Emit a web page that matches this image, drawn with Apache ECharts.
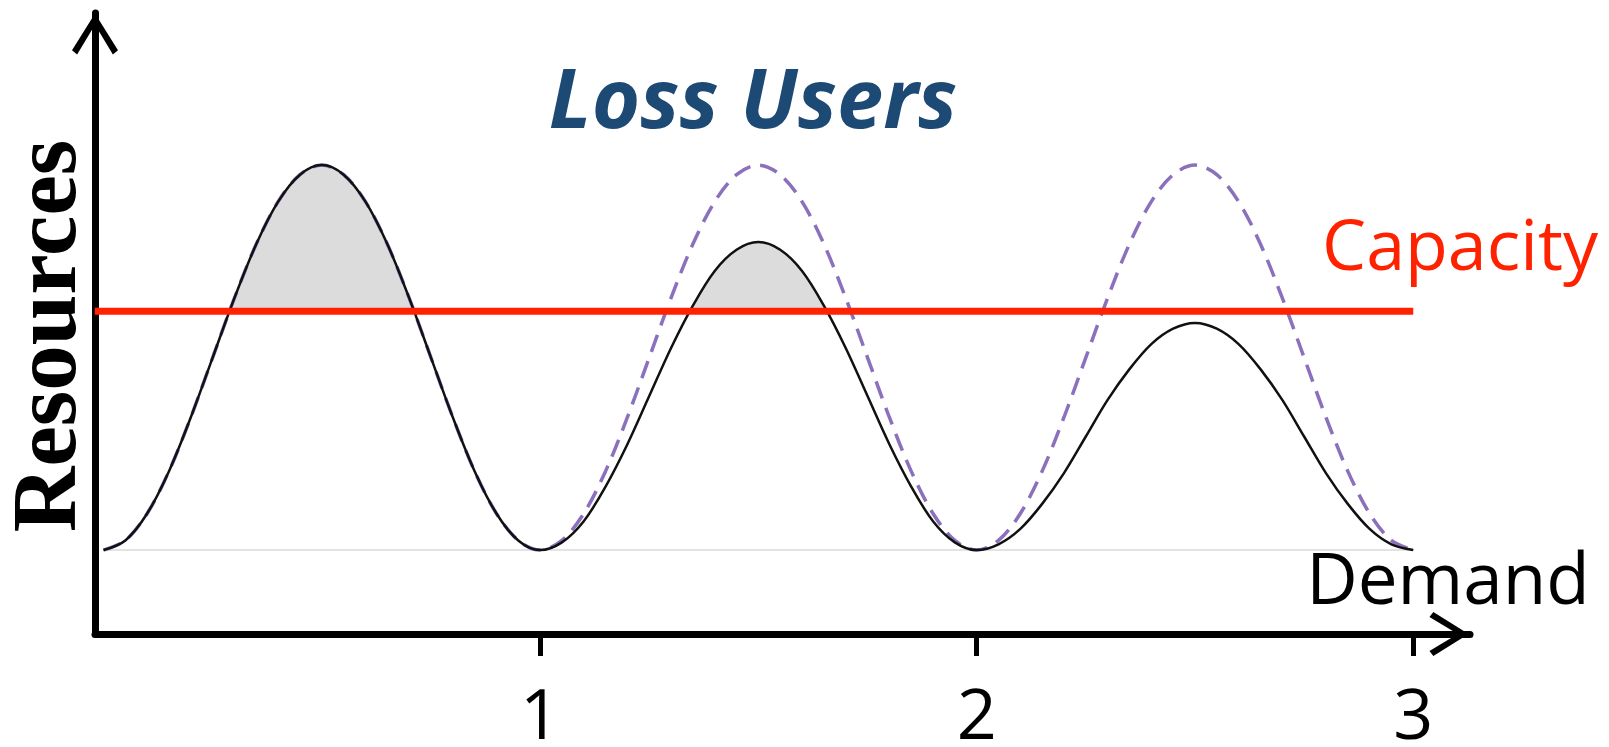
<!DOCTYPE html>
<html>
<head>
<meta charset="utf-8">
<script src="https://cdn.jsdelivr.net/npm/echarts@6/dist/echarts.min.js"></script>
<style>
  html, body { margin: 0; padding: 0; background: #fff; }
  #chart { width: 1609px; height: 747px; }
</style>
</head>
<body>
<div id="chart"></div>
<script>
// x positions (Demand axis), read every 0.05
const xs = [0, 0.05, 0.1, 0.15, 0.2, 0.25, 0.3, 0.35, 0.4, 0.45,
  0.5, 0.55, 0.6, 0.65, 0.7, 0.75, 0.8, 0.85, 0.9, 0.95,
  1, 1.05, 1.1, 1.15, 1.2, 1.25, 1.3, 1.35, 1.4, 1.45,
  1.5, 1.55, 1.6, 1.65, 1.7, 1.75, 1.8, 1.85, 1.9, 1.95,
  2, 2.05, 2.1, 2.15, 2.2, 2.25, 2.3, 2.35, 2.4, 2.45,
  2.5, 2.55, 2.6, 2.65, 2.7, 2.75, 2.8, 2.85, 2.9, 2.95, 3];
// solid black curve (served demand)
const demand = [0, 0.025, 0.095, 0.205, 0.345, 0.50, 0.655, 0.795, 0.905, 0.975,
  1.00, 0.975, 0.905, 0.795, 0.655, 0.50, 0.345, 0.205, 0.095, 0.025,
  0, 0.02, 0.075, 0.165, 0.275, 0.40, 0.525, 0.635, 0.725, 0.78,
  0.80, 0.78, 0.725, 0.635, 0.525, 0.40, 0.275, 0.165, 0.075, 0.02,
  0, 0.015, 0.055, 0.12, 0.20, 0.295, 0.39, 0.47, 0.535, 0.575,
  0.59, 0.575, 0.535, 0.47, 0.39, 0.295, 0.20, 0.12, 0.055, 0.015, 0];
// dashed purple curve (original demand)
const potential = [0, 0.025, 0.095, 0.205, 0.345, 0.50, 0.655, 0.795, 0.905, 0.975,
  1.00, 0.975, 0.905, 0.795, 0.655, 0.50, 0.345, 0.205, 0.095, 0.025,
  0, 0.025, 0.095, 0.205, 0.345, 0.50, 0.655, 0.795, 0.905, 0.975,
  1.00, 0.975, 0.905, 0.795, 0.655, 0.50, 0.345, 0.205, 0.095, 0.025,
  0, 0.025, 0.095, 0.205, 0.345, 0.50, 0.655, 0.795, 0.905, 0.975,
  1.00, 0.975, 0.905, 0.795, 0.655, 0.50, 0.345, 0.205, 0.095, 0.025, 0];
const capacity = 0.62;
const capacityX = [-0.02, 3];
const baselineX = [0, 3];
const tickValues = [1, 2, 3];

const X_MIN = -0.0195, X_MAX = 3.13;
const Y_MIN = -0.218, Y_MAX = 1.395;
const SMOOTH = 0.33;

const zip = (a, b) => a.map((v, i) => [v, b[i]]);
const arrow = 'path://M22.5,0L45,36L40,40L22.5,11L5,40L0,36Z';
const font = '"Open Sans", "Liberation Sans", sans-serif';

const chart = echarts.init(document.getElementById('chart'));
chart.setOption({
  animation: false,
  backgroundColor: '#fff',
  grid: { left: 95, right: 139, top: 13, bottom: 113, containLabel: false, outerBoundsMode: 'none' },
  xAxis: {
    type: 'value', min: X_MIN, max: X_MAX,
    axisLine: { onZero: false, lineStyle: { color: '#000', width: 7 },
      symbol: ['none', arrow], symbolSize: [44, 42], symbolOffset: [0, -21] },
    axisTick: { customValues: tickValues, length: 22, lineStyle: { color: '#000', width: 5 } },
    axisLabel: { customValues: tickValues, margin: 50, color: '#000', fontSize: 70, fontFamily: font },
    splitLine: { show: false }
  },
  yAxis: {
    type: 'value', min: Y_MIN, max: Y_MAX,
    axisLine: { show: true, onZero: false, lineStyle: { color: '#000', width: 7 },
      symbol: ['none', arrow], symbolSize: [46, 42], symbolOffset: [0, -21] },
    axisTick: { show: false },
    axisLabel: { show: false },
    splitLine: { show: false }
  },
  series: [
    { // gray fill under demand
      type: 'line', z: 1, smooth: SMOOTH, showSymbol: false, silent: true,
      data: zip(xs, demand),
      lineStyle: { width: 0 },
      areaStyle: { color: '#dcdcdc', opacity: 1, origin: 0 }
    },
    { // white mask below capacity, leaves only the lost part gray
      type: 'line', z: 2, showSymbol: false, silent: true,
      data: baselineX.map(x => [x, capacity]),
      lineStyle: { width: 0 },
      areaStyle: { color: '#fff', opacity: 1, origin: 0 }
    },
    {
      type: 'line', z: 3, showSymbol: false, silent: true,
      data: baselineX.map(x => [x, 0]),
      lineStyle: { color: '#e3e3e3', width: 2 }
    },
    {
      type: 'line', z: 4, smooth: SMOOTH, showSymbol: false,
      data: zip(xs, potential),
      lineStyle: { color: '#8a70bd', width: 3.5, type: [18, 10] }
    },
    {
      type: 'line', z: 5, smooth: SMOOTH, showSymbol: false,
      data: zip(xs, demand),
      lineStyle: { color: '#111', width: 2.5 }
    },
    {
      type: 'line', z: 6, showSymbol: false,
      data: capacityX.map(x => [x, capacity]),
      lineStyle: { color: '#ff2200', width: 7 }
    }
  ],
  graphic: [
    { type: 'text', x: 753, y: 104, z: 10,
      style: { text: 'Loss Users', fill: '#1d4a75', font: 'italic bold 83px ' + font, align: 'center', verticalAlign: 'middle' } },
    { type: 'text', x: 1460, y: 250, z: 10,
      style: { text: 'Capacity', fill: '#ff2200', font: '70px ' + font, align: 'center', verticalAlign: 'middle' } },
    { type: 'text', x: 1448, y: 584, z: 10,
      style: { text: 'Demand', fill: '#000', font: '71px ' + font, align: 'center', verticalAlign: 'middle' } },
    { type: 'text', x: 51, y: 336, rotation: Math.PI / 2, z: 10,
      style: { text: 'Resources', fill: '#000', font: 'bold 91px "Liberation Serif", serif', align: 'center', verticalAlign: 'middle' } }
  ]
});
</script>
</body>
</html>
